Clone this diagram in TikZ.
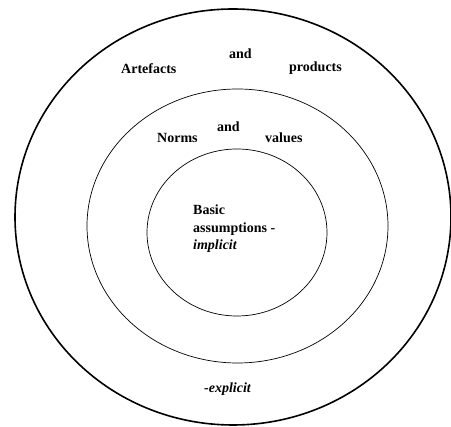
\documentclass[tikz,border=0pt]{standalone}
\usepackage{fontspec}
\setmainfont{Liberation Serif}
\usepackage{tikz}
\usetikzlibrary{shapes.geometric}

\begin{document}
\begin{tikzpicture}[x=1pt,y=-1pt,
  layer/.style={ellipse,draw,inner sep=0pt},
  lbl/.style={anchor=base west,inner sep=0pt,font=\fontsize{14}{17.5}\selectfont\bfseries}]
\useasboundingbox (0,0) rectangle (451,427);
\node (outer) [layer,line width=1.6pt,minimum width=436pt,minimum height=416pt] at (233,217) {};
\node (middle) [layer,line width=0.7pt,minimum width=301pt,minimum height=274pt] at (237.5,226) {};
\node (inner) [layer,line width=0.7pt,minimum width=180pt,minimum height=167pt] at (237,232.5) {};
\draw (121,74) node[lbl] {Artefacts};
\draw (229,59) node[lbl] {and};
\draw (289,72) node[lbl] {products};
\draw (157,143) node[lbl] {Norms};
\draw (217,131.5) node[lbl] {and};
\draw (265,143) node[lbl] {values};
\draw (193,215) node[lbl] {Basic};
\draw (193,232.5) node[lbl] {assumptions -};
\draw (193,250) node[lbl] {\itshape implicit};
\draw (204,393) node[lbl] {\itshape -explicit};
\end{tikzpicture}
\end{document}
